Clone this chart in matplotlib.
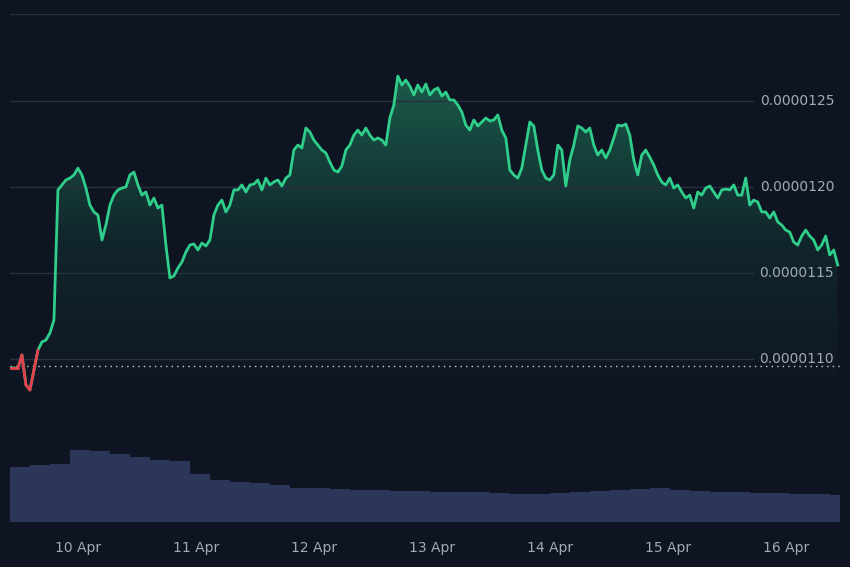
import numpy as np
import pandas as pd
import matplotlib
matplotlib.use("Agg")
import matplotlib.pyplot as plt
import matplotlib.dates as mdates
from matplotlib.patches import Polygon

prices_e7 = [109.48,109.48,109.48,110.23,108.49,108.2,109.36,110.52,110.99,111.1,111.51,112.27,119.83,120.12,120.41,120.52,120.7,121.1,120.7,119.94,118.95,118.55,118.37,116.92,117.79,118.95,119.53,119.83,119.94,120.0,120.7,120.87,120.12,119.53,119.71,118.95,119.36,118.78,118.95,116.63,114.71,114.83,115.29,115.64,116.22,116.63,116.69,116.34,116.74,116.57,116.92,118.37,118.95,119.24,118.55,118.95,119.83,119.83,120.12,119.71,120.12,120.17,120.41,119.83,120.52,120.12,120.29,120.41,120.06,120.52,120.7,122.15,122.44,122.27,123.43,123.2,122.73,122.44,122.15,121.98,121.45,120.99,120.87,121.22,122.15,122.44,123.02,123.31,123.02,123.43,123.02,122.73,122.85,122.73,122.44,124.01,124.77,126.45,125.93,126.22,125.87,125.35,125.93,125.52,125.99,125.35,125.64,125.76,125.29,125.52,125.06,125.06,124.77,124.36,123.6,123.31,123.9,123.55,123.78,124.01,123.84,123.9,124.19,123.31,122.85,120.99,120.7,120.52,121.1,122.44,123.78,123.55,122.15,120.99,120.52,120.41,120.7,122.44,122.15,120.06,121.57,122.44,123.55,123.43,123.2,123.43,122.44,121.86,122.15,121.69,122.15,122.85,123.6,123.55,123.66,123.02,121.57,120.7,121.86,122.15,121.74,121.28,120.7,120.29,120.12,120.52,119.94,120.12,119.71,119.36,119.53,118.78,119.71,119.53,119.94,120.06,119.71,119.36,119.83,119.88,119.83,120.12,119.53,119.53,120.52,118.95,119.24,119.13,118.55,118.55,118.2,118.55,117.97,117.79,117.5,117.38,116.8,116.63,117.15,117.5,117.15,116.92,116.34,116.63,117.15,116.05,116.34,115.47]
volume = [55,57,58,72,71,68,65,62,61,48,42,40,39,37,34,34,33,32,32,31,31,30,30,30,29,28,28,29,30,31,32,33,34,32,31,30,30,29,29,28,28,27]
price_ticks_e7 = [110, 115, 120, 125]
tick_labels = ["0.0000110", "0.0000115", "0.0000120", "0.0000125"]
baseline_e7 = 109.59

t_price = pd.date_range("2024-04-09 10:10", periods=len(prices_e7), freq="2928s")
t_vol = pd.date_range("2024-04-09 10:10", periods=len(volume), freq="244min")
prices = np.array(prices_e7) * 1e-7
base = baseline_e7 * 1e-7

BG = "#0e1421"
GRID = "#283041"
TXT = "#a3a9b5"
GREEN = "#2fcf8b"
RED = "#e5404b"

fig = plt.figure(figsize=(8.5, 5.67), dpi=100, facecolor=BG)
ax = fig.add_axes([10/850, 1-445/567, 830/850, 431/567], facecolor=BG)
axv = fig.add_axes([10/850, 1-522/567, 830/850, 77/567], facecolor=BG, sharex=ax)

x0 = pd.Timestamp("2024-04-10") - pd.Timedelta(days=0.576)
x1 = pd.Timestamp("2024-04-10") + pd.Timedelta(days=6.458)

for v in price_ticks_e7:
    ax.axhline(v*1e-7, xmax=0.895, color=GRID, lw=1, zorder=2)
for lab, v in zip(tick_labels, price_ticks_e7):
    ax.text(0.993, v*1e-7, lab, transform=ax.get_yaxis_transform(), ha="right", va="center",
            color=TXT, fontsize=10, zorder=5)

xn = mdates.date2num(t_price)
grad = np.linspace(0, 1, 256).reshape(-1, 1)
cmap = matplotlib.colors.LinearSegmentedColormap.from_list(
    "g", [(0.18, 0.81, 0.55, 0.0), (0.18, 0.81, 0.55, 0.10), (0.18, 0.81, 0.55, 0.40)])
im = ax.imshow(grad, aspect="auto", cmap=cmap, origin="lower",
               extent=[mdates.date2num(x0), mdates.date2num(x1), 107e-7, 127e-7], zorder=1)
verts = np.column_stack([np.r_[xn, xn[-1], xn[0]], np.r_[prices, 105e-7, 105e-7]])
poly = Polygon(verts, closed=True, fc="none", ec="none")
ax.add_patch(poly)
im.set_clip_path(poly)
ax.set_xlim(x0, x1)
ax.set_ylim(105e-7, 130.06e-7)

ax.plot(t_price, prices, color=GREEN, lw=2, zorder=3)
segs_red = prices < base
for i in range(len(prices)-1):
    if segs_red[i] or segs_red[i+1]:
        ax.plot(t_price[i:i+2], prices[i:i+2], color=RED, lw=2, zorder=4, solid_capstyle="round")
ax.axhline(base, color="#c9ccd3", lw=1, ls=(0, (1, 3)), zorder=2)

for a in (ax, axv):
    a.tick_params(left=False, right=False, labelleft=False, bottom=False)
    for s in a.spines.values():
        s.set_visible(False)
ax.spines["top"].set_visible(True); ax.spines["top"].set_color(GRID)
ax.spines["bottom"].set_visible(True); ax.spines["bottom"].set_color(GRID)
ax.tick_params(labelbottom=False)

tv = list(t_vol) + [x1]
vv = list(volume) + [volume[-1]]
axv.fill_between(tv, vv, step="post", color="#2c3658", lw=0)
axv.set_ylim(0, 77)
axv.xaxis.set_major_locator(mdates.DayLocator())
axv.xaxis.set_major_formatter(mdates.DateFormatter("%-d %b"))
axv.tick_params(axis="x", colors=TXT, labelsize=10, pad=14, length=0)
axv.set_xlim(x0, x1)

fig.savefig("out.png", dpi=100, facecolor=BG)
